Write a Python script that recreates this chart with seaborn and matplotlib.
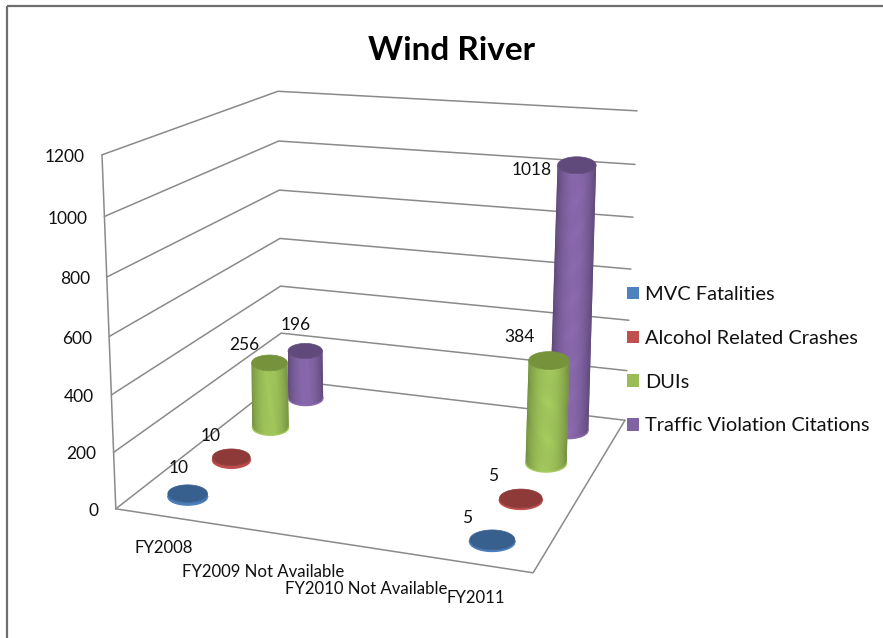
import numpy as np
import pandas as pd
import matplotlib
matplotlib.use('Agg')
import matplotlib.pyplot as plt
import seaborn as sns
from matplotlib.collections import PolyCollection
from matplotlib.patches import Patch, Rectangle, Polygon

# values
categories = ['FY2008', 'FY2009 Not Available', 'FY2010 Not Available', 'FY2011']
series_names = ['MVC Fatalities', 'Alcohol Related Crashes', 'DUIs', 'Traffic Violation Citations']
mvc = [10, None, None, 5]
alcohol = [10, None, None, 5]
duis = [256, None, None, 384]
citations = [196, None, None, 1018]
y_ticks = [0, 200, 400, 600, 800, 1000, 1200]

# styles
side_colors = ['#4F81BD', '#C0504D', '#A6CB5E', '#8C6BB0']
edge_colors = ['#3F6AA0', '#A03F3D', '#6F8A3F', '#5A4574']
top_colors = ['#38608F', '#8E3A38', '#76933C', '#604A7B']
legend_colors = ['#4F81BD', '#C0504D', '#9BBB59', '#8064A2']

# label offsets in pixels from the top of each cylinder
label_offset = {(0, 0): (-9, -26), (1, 0): (-21, -21), (2, 0): (-25, -18), (3, 0): (-10, -26),
                (0, 3): (-25, -22), (1, 3): (-28, -22), (2, 3): (-29, -24), (3, 3): (-45, 5)}
cat_offset = [(0, 32), (0, 41), (-1, 42), (-1, 34)]

sns.set_theme(style='white')
plt.rcParams['font.family'] = ['Lato', 'DejaVu Sans']

# camera: fit the 3x4 matrix from the box corners seen in the picture (u, v, w) -> (px, py)
box_pts = [((0, 0, 0), (116, 509)), ((0, 0, 1), (102, 155)), ((0, 0, .5), (109, 336)),
           ((0, 1, 1), (278, 91)), ((0, 1, .5), (280, 239)), ((0, 1, 1 / 6), (281, 333)),
           ((1, 1, 1), (637, 111)), ((1, 1, .5), (631, 269)), ((1, 1, 0), (625, 420)),
           ((1, 0, 0), (533, 573))]
A = []
for (u, v, w), (px, py) in box_pts:
    A.append([u, v, w, 1, 0, 0, 0, 0, -px * u, -px * v, -px * w, -px])
    A.append([0, 0, 0, 0, u, v, w, 1, -py * u, -py * v, -py * w, -py])
P = np.linalg.svd(np.array(A))[2][-1].reshape(3, 4)


def project(u, v, value):
    h = P @ np.array([u, v, value / 1200, 1.0])
    return h[:2] / h[2]


fig = plt.figure(figsize=(8.83, 6.38), dpi=100)
ax = fig.add_axes([0, 0, 1, 1])

# gridlines on the two walls and the floor
rows = []
n = 0
for t in y_ticks:
    for u, v in [(0, 0), (0, 1), (1, 1)]:
        px, py = project(u, v, t)
        rows.append({'px': px, 'py': py, 'line': n})
    n += 1
for (u, v, t) in [(0, 0, 0), (1, 0, 0), (1, 1, 0)]:
    px, py = project(u, v, t)
    rows.append({'px': px, 'py': py, 'line': n})
n += 1
for (u, v, t) in [(0, 0, 0), (0, 0, 1200)]:
    px, py = project(u, v, t)
    rows.append({'px': px, 'py': py, 'line': n})
grid = pd.DataFrame(rows)
sns.lineplot(data=grid, x='px', y='py', units='line', estimator=None, sort=False,
             color='#8A8A8A', linewidth=1.1, ax=ax, zorder=1)


def blend(c1, c2, t):
    a = np.array(matplotlib.colors.to_rgb(c1))
    b = np.array(matplotlib.colors.to_rgb(c2))
    return tuple(a * (1 - t) + b * t)


def ellipse(c, rx, ry, thetas):
    return np.column_stack([c[0] + rx * np.cos(thetas), c[1] + ry * np.sin(thetas)])


def draw_cylinder(u, v, value, s, z):
    base = project(u, v, 0)
    top = project(u, v, value)
    # radius follows the perspective of the floor
    d = 0.048
    rx = np.hypot(*(project(u + d, v, 0) - project(u - d, v, 0))) / 2 * 1.09
    ry = rx * 0.44
    # strips even in x, so each is about a pixel wide
    th = np.arccos(np.linspace(-1, 1, 41))
    b = ellipse(base, rx, ry, th)
    t = ellipse(top, rx * 0.985, ry * 0.985, th)
    # solid body first so the strip seams do not show the background
    body = np.vstack([b, t[::-1]])
    ax.add_patch(Polygon(body, closed=True, facecolor=blend(edge_colors[s], side_colors[s], .6),
                         edgecolor='none', zorder=z))
    polys, cols = [], []
    for i in range(len(th) - 1):
        polys.append([b[i], b[i + 1], t[i + 1], t[i]])
        x = (i + .5) / (len(th) - 1)
        cols.append(blend(edge_colors[s], side_colors[s], min(1, np.sin(np.pi * x) ** .8)))
    ax.add_collection(PolyCollection(polys, facecolors=cols, edgecolors='none', zorder=z + .02))
    ax.plot(b[:, 0], b[:, 1], color=side_colors[s], lw=1, zorder=z + .05)
    full = np.linspace(0, 2 * np.pi, 80)
    ax.add_patch(Polygon(ellipse(top, rx * 0.985, ry * 0.985, full), closed=True,
                         facecolor=top_colors[s], edgecolor=top_colors[s], linewidth=.5, zorder=z + .1))
    return top


series = [mvc, alcohol, duis, citations]
tops = {}
# back to front so that nearer cylinders cover the ones behind
for s in [3, 2, 1, 0]:
    for c in range(len(categories)):
        if series[s][c] is None:
            continue
        tops[(s, c)] = draw_cylinder((c + .5) / 4, (s + .5) / 4, series[s][c], s, 3 + (3 - s))

for (s, c), top in tops.items():
    dx, dy = label_offset[(s, c)]
    ax.text(top[0] + dx, top[1] + dy, str(series[s][c]), ha='center', va='center',
            fontsize=12.5, color='#111111', zorder=20)

for t in y_ticks:
    px, py = project(0, 0, t)
    ax.text(px - 17, py + 2, str(t), ha='right', va='center', fontsize=12.5, color='#111111')

for c, name in enumerate(categories):
    px, py = project((c + .5) / 4, 0, 0)
    ax.text(px + cat_offset[c][0], py + cat_offset[c][1], name, ha='center', va='center',
            fontsize=12.1, color='#111111')

ax.text(452, 51, 'Wind River', ha='center', va='center', fontsize=24, fontweight='bold', color='black')

# frame of the pasted picture
ax.add_patch(Rectangle((7, 6), 900, 660, fill=False, edgecolor='#6E6E6E', linewidth=1.6, zorder=30))

handles = [Patch(facecolor=col, edgecolor='none', label=name) for col, name in zip(legend_colors, series_names)]
ax.legend(handles=handles, loc='upper left', bbox_to_anchor=(627 / 883, 1 - 286 / 638), frameon=False,
          fontsize=14.4, handlelength=.58, handleheight=.58, handletextpad=.32,
          labelspacing=1.34, borderpad=0, borderaxespad=0, labelcolor='#111111')

ax.set_xlim(0, 883)
ax.set_ylim(638, 0)
ax.axis('off')

fig.savefig('out.png', dpi=100)
